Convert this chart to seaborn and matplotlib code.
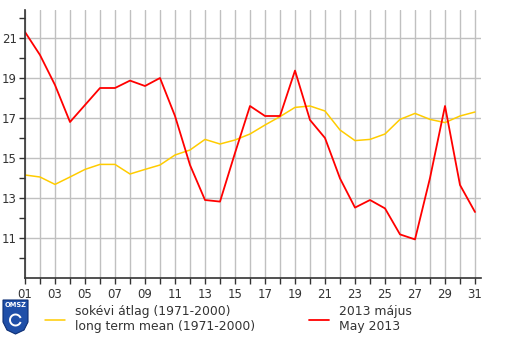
import numpy as np
import pandas as pd
import seaborn as sns
import matplotlib
matplotlib.use("Agg")
import matplotlib.pyplot as plt
from matplotlib.patches import Polygon, Arc

days = list(range(1, 32))
may_2013 = [21.3, 20.15, 18.65, 16.8, 17.65, 18.5, 18.5, 18.87, 18.6, 19.0,
            17.1, 14.65, 12.9, 12.82, 15.25, 17.6, 17.1, 17.1, 19.37, 16.9,
            16.0, 13.98, 12.52, 12.9, 12.48, 11.18, 10.93, 14.0, 17.6, 13.65, 12.3]
long_term_mean = [14.15, 14.05, 13.68, 14.05, 14.43, 14.68, 14.68, 14.2, 14.43, 14.65,
                  15.15, 15.4, 15.93, 15.7, 15.9, 16.2, 16.65, 17.07, 17.53, 17.6,
                  17.35, 16.4, 15.87, 15.93, 16.2, 16.93, 17.23, 16.93, 16.77, 17.1, 17.3]
x_labels = [f"{d:02d}" for d in days]
y_labels = [11, 13, 15, 17, 19, 21]
label_mean = "sokévi átlag (1971-2000)\nlong term mean (1971-2000)"
label_may = "2013 május\nMay 2013"

df = pd.DataFrame({"day": days, "may": may_2013, "mean": long_term_mean})

sns.set_style("white")
plt.rcParams['font.family'] = ['DejaVu Sans']

W, H = 505, 338
fig = plt.figure(figsize=(W / 100, H / 100), dpi=100)
ax = fig.add_axes([25 / W, 1 - 278 / H, (481 - 25) / W, (278 - 10) / H])

sns.lineplot(data=df, x="day", y="mean", ax=ax, color="#FFCC00", lw=1.1, label=label_mean)
sns.lineplot(data=df, x="day", y="may", ax=ax, color="#FF0000", lw=1.3, label=label_may)

ax.set_xlim(1, 31.4)
ax.set_ylim(9, 22.4)
ax.set_xticks(days)
ax.set_xticklabels([l if d % 2 == 1 else "" for d, l in zip(days, x_labels)])
ax.set_yticks(y_labels)
ax.set_yticklabels([str(v) for v in y_labels])
ax.set_yticks(list(range(10, 23, 2)), minor=True)
ax.set_xlabel("")
ax.set_ylabel("")
ax.grid(True, which="major", color="#c0c0c0", lw=1)
ax.set_axisbelow(True)
for s in ["top", "right"]:
    ax.spines[s].set_visible(False)
for s in ["left", "bottom"]:
    ax.spines[s].set_color("#333333")
    ax.spines[s].set_linewidth(1.2)
ax.tick_params(axis="both", which="both", direction="out", length=4, width=1,
               color="#333333", labelcolor="#333333", labelsize=8.5, pad=3,
               left=True, bottom=True)
ax.tick_params(axis="y", which="both", pad=2)
handles, labels = ax.get_legend_handles_labels()
ax.get_legend().remove()

# legend
fig.legend(handles, labels, loc="upper left", bbox_to_anchor=(45 / W, 1 - 305 / H),
           ncol=2, frameon=False, fontsize=8.9, handlelength=1.6, handletextpad=0.8,
           columnspacing=4.4, labelcolor="#333333", borderaxespad=0, borderpad=0,
           labelspacing=0.3)

# OMSZ logo
pts = [(3, 300), (28, 300), (28, 322), (24, 330), (15.5, 334), (7, 330), (3, 322)]
shield = Polygon([(x / W, 1 - y / H) for x, y in pts], closed=True,
                 facecolor="#1f4fa8", edgecolor="#0d2f75", lw=0.8,
                 transform=fig.transFigure)
fig.add_artist(shield)
fig.text(15.5 / W, 1 - 305 / H, "OMSZ", color="white", fontsize=4.8, fontweight="bold",
         ha="center", va="center")
arc = Arc((15.5 / W, 1 - 320 / H), 11 / W, 11 / H, theta1=30, theta2=330,
          transform=fig.transFigure, color="white", lw=1.4)
fig.add_artist(arc)

fig.savefig("out.png", dpi=100)
